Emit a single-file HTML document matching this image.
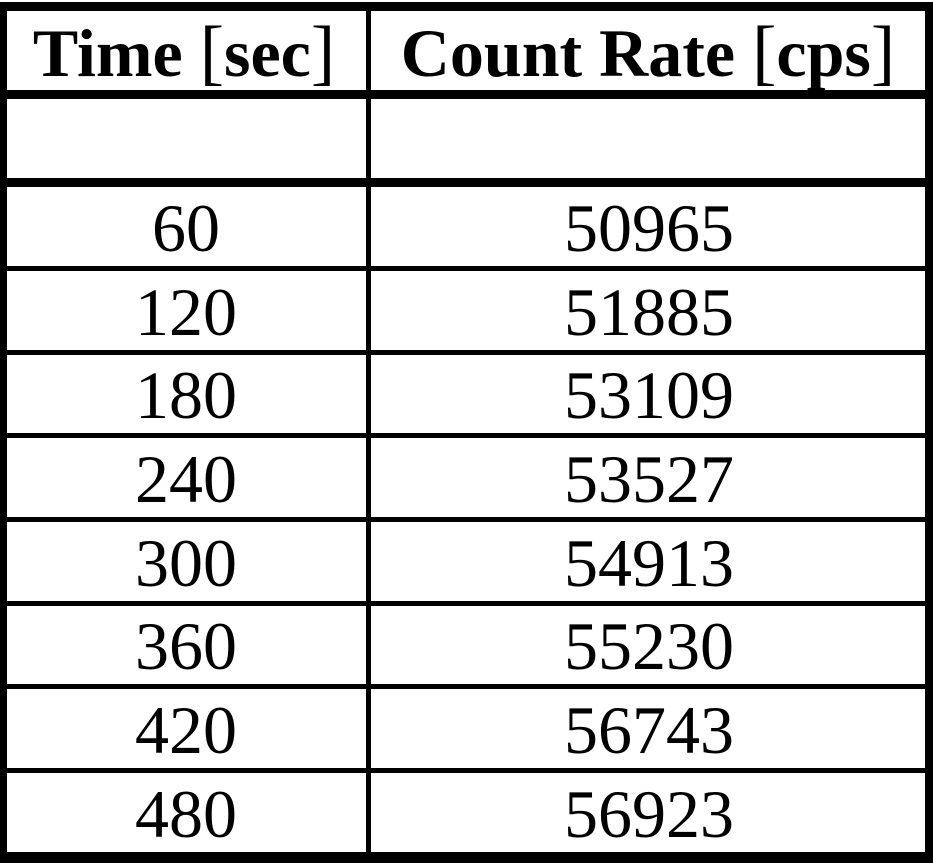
<!DOCTYPE html>
<html>
<head>
<meta charset="utf-8">
<style>
  html, body { margin: 0; padding: 0; background: #fff; }
  body { width: 933px; height: 863px; overflow: hidden; }
  svg { display: block; }
  text { font-family: "Liberation Serif", "Times New Roman", serif; fill: #000; }
  .h { font-size: 68px; font-weight: bold; }
  .n { font-weight: normal; font-size: 73px; }
  .d { font-size: 68px; font-weight: normal; }
</style>
</head>
<body>
<svg width="933" height="863" viewBox="0 0 933 863" xmlns="http://www.w3.org/2000/svg">
  <rect x="0" y="0" width="933" height="863" fill="#fff"/>
  <!-- outer borders -->
  <rect x="0" y="2" width="933" height="9" fill="#000"/>
  <rect x="0" y="2" width="7" height="861" fill="#000"/>
  <rect x="925" y="2" width="8" height="861" fill="#000"/>
  <rect x="0" y="852" width="933" height="11" fill="#000"/>
  <!-- thick header lines -->
  <rect x="0" y="90" width="933" height="9" fill="#000"/>
  <rect x="0" y="178" width="933" height="9" fill="#000"/>
  <!-- column divider -->
  <rect x="366" y="2" width="5" height="861" fill="#000"/>
  <!-- thin row lines -->
  <rect x="0" y="266" width="933" height="5" fill="#000"/>
  <rect x="0" y="350" width="933" height="5" fill="#000"/>
  <rect x="0" y="433" width="933" height="5" fill="#000"/>
  <rect x="0" y="517" width="933" height="5" fill="#000"/>
  <rect x="0" y="601" width="933" height="5" fill="#000"/>
  <rect x="0" y="684" width="933" height="5" fill="#000"/>
  <rect x="0" y="768" width="933" height="5" fill="#000"/>

  <!-- headers -->
  <text class="h" x="184" y="76" text-anchor="middle">Time <tspan class="n">[</tspan>sec<tspan class="n">]</tspan></text>
  <text class="h" x="648" y="76" text-anchor="middle">Count Rate <tspan class="n">[</tspan>cps<tspan class="n">]</tspan></text>

  <!-- column 1 -->
  <text class="d" x="186" y="251" text-anchor="middle">60</text>
  <text class="d" x="186" y="335" text-anchor="middle">120</text>
  <text class="d" x="186" y="418" text-anchor="middle">180</text>
  <text class="d" x="186" y="502" text-anchor="middle">240</text>
  <text class="d" x="186" y="586" text-anchor="middle">300</text>
  <text class="d" x="186" y="669" text-anchor="middle">360</text>
  <text class="d" x="186" y="753" text-anchor="middle">420</text>
  <text class="d" x="186" y="837" text-anchor="middle">480</text>

  <!-- column 2 -->
  <text class="d" x="649" y="251" text-anchor="middle">50965</text>
  <text class="d" x="649" y="335" text-anchor="middle">51885</text>
  <text class="d" x="649" y="418" text-anchor="middle">53109</text>
  <text class="d" x="649" y="502" text-anchor="middle">53527</text>
  <text class="d" x="649" y="586" text-anchor="middle">54913</text>
  <text class="d" x="649" y="669" text-anchor="middle">55230</text>
  <text class="d" x="649" y="753" text-anchor="middle">56743</text>
  <text class="d" x="649" y="837" text-anchor="middle">56923</text>
</svg>
</body>
</html>
